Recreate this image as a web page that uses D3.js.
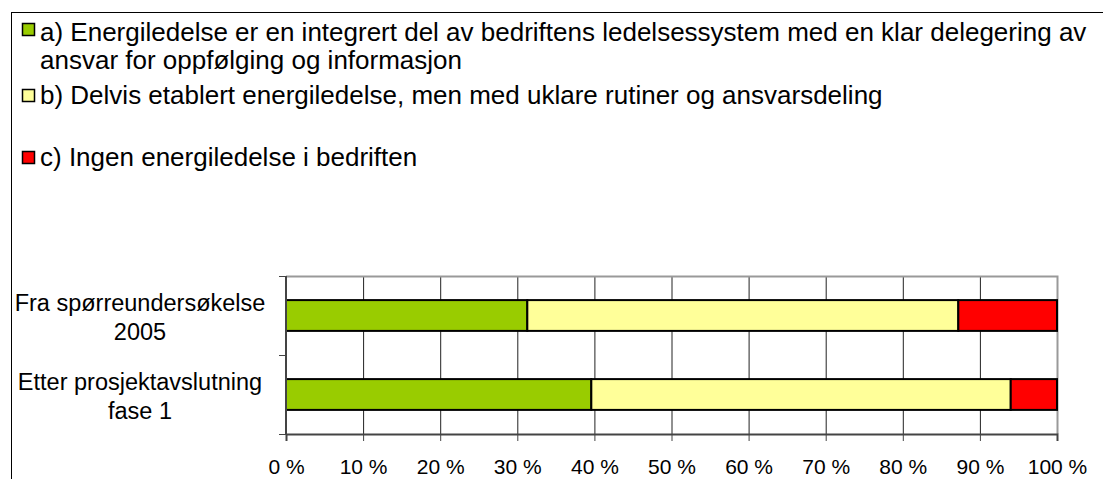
<!DOCTYPE html>
<html>
<head>
<meta charset="utf-8">
<script src="https://cdn.jsdelivr.net/npm/d3@7"></script>
<style>
  body { margin: 0; background: #fff; }
  text { font-family: "Liberation Sans", Arial, sans-serif; fill: #000; }
</style>
</head>
<body>
<div id="chart"></div>
<script>
// data
let categories = ["Fra spørreundersøkelse 2005", "Etter prosjektavslutning fase 1"];
let categoryLines = [["Fra spørreundersøkelse", "2005"], ["Etter prosjektavslutning", "fase 1"]];
let seriesNames = ["a", "b", "c"];
let seriesA = [31.3, 39.6];
let seriesB = [55.9, 54.4];
let seriesC = [12.8, 6.0];
let legendLines = [
  ["a) Energiledelse er en integrert del av bedriftens ledelsessystem med en klar delegering av", "ansvar for oppfølging og informasjon"],
  ["b) Delvis etablert energiledelse, men med uklare rutiner og ansvarsdeling"],
  ["c) Ingen energiledelse i bedriften"]
];
let colors = ["#99cc00", "#ffff99", "#ff0000"];
let xTicks = [0, 10, 20, 30, 40, 50, 60, 70, 80, 90, 100];

let width = 1103;
let height = 479;
let margin = {top: 276, bottom: 45, left: 286, right: 46};

let svg = d3.select("#chart").append("svg")
  .attr("width", width)
  .attr("height", height);

// outer frame (runs past right and bottom edges)
svg.append("rect")
  .attr("x", 11.5)
  .attr("y", 12.5)
  .attr("width", 1200)
  .attr("height", 600)
  .attr("fill", "none")
  .attr("stroke", "#000");

let x = d3.scaleLinear().domain([0, 100]).range([margin.left, width - margin.right]);
let y = d3.scaleBand().domain(categories).range([margin.top, height - margin.bottom]);

// stacked rows
let rows = categories.map((c, i) => ({cat: c, a: seriesA[i], b: seriesB[i], c: seriesC[i]}));
let stack = d3.stack().keys(seriesNames);
let stacked = stack(rows);

// grid lines
svg.append("g")
  .selectAll("line")
  .data(xTicks.slice(1, -1))
  .enter().append("line")
  .attr("x1", d => x(d) + 0.5)
  .attr("x2", d => x(d) + 0.5)
  .attr("y1", margin.top)
  .attr("y2", height - margin.bottom)
  .attr("stroke", "#222")
  .attr("stroke-width", 1);

// plot frame top/right in grey
svg.append("path")
  .attr("d", `M${margin.left},${margin.top + 0.5}H${x(100) + 0.5}V${height - margin.bottom}`)
  .attr("fill", "none")
  .attr("stroke", "#999")
  .attr("stroke-width", 2);

let barH = y.bandwidth() * 0.39;

svg.append("g")
  .selectAll("g")
  .data(stacked)
  .enter().append("g")
  .attr("fill", (d, i) => colors[i])
  .selectAll("rect")
  .data(d => d)
  .enter().append("rect")
  .attr("x", d => x(d[0]))
  .attr("width", d => x(d[1]) - x(d[0]))
  .attr("y", d => y(d.data.cat) + (y.bandwidth() - barH) / 2)
  .attr("height", barH)
  .attr("stroke", "#000")
  .attr("stroke-width", 2);

// x axis
let xAxis = svg.append("g")
  .attr("transform", `translate(0,${height - margin.bottom})`)
  .call(d3.axisBottom(x).tickValues(xTicks).tickFormat(d => d + " %").tickSize(7).tickPadding(18));
xAxis.select(".domain").attr("stroke", "#444").attr("stroke-width", 2);
xAxis.selectAll(".tick line").attr("stroke", "#444");
xAxis.selectAll("text").attr("font-size", 21).attr("font-family", "Liberation Sans, Arial, sans-serif");

// y axis: ticks between categories
let yEdges = [margin.top, margin.top + y.step(), height - margin.bottom];
svg.append("line")
  .attr("x1", margin.left)
  .attr("x2", margin.left)
  .attr("y1", margin.top)
  .attr("y2", height - margin.bottom)
  .attr("stroke", "#444")
  .attr("stroke-width", 2);
svg.append("g")
  .selectAll("line")
  .data(yEdges)
  .enter().append("line")
  .attr("x1", margin.left - 7)
  .attr("x2", margin.left)
  .attr("y1", d => d + 0.5)
  .attr("y2", d => d + 0.5)
  .attr("stroke", "#444");

// category labels
categories.forEach((c, i) => {
  let cy = y(c) + y.bandwidth() / 2;
  let t = svg.append("text")
    .attr("x", 140)
    .attr("y", cy - 5)
    .attr("text-anchor", "middle")
    .attr("font-size", 23.5);
  categoryLines[i].forEach((line, j) => {
    t.append("tspan").attr("x", 140).attr("dy", j === 0 ? 0 : 29).text(line);
  });
});

// legend
let legendY = [23, 89, 151];
let legendBase = [41, 104, 166];
let legend = svg.append("g");
legendLines.forEach((lines, i) => {
  legend.append("rect")
    .attr("x", 22.5)
    .attr("y", legendY[i] + 0.5)
    .attr("width", 12)
    .attr("height", 12)
    .attr("fill", colors[i])
    .attr("stroke", "#000")
    .attr("stroke-width", 1.5);
  let t = legend.append("text")
    .attr("x", 40)
    .attr("y", legendBase[i])
    .attr("font-size", 26);
  lines.forEach((line, j) => {
    t.append("tspan").attr("x", 40).attr("dy", j === 0 ? 0 : 28).text(line);
  });
});
</script>
</body>
</html>
